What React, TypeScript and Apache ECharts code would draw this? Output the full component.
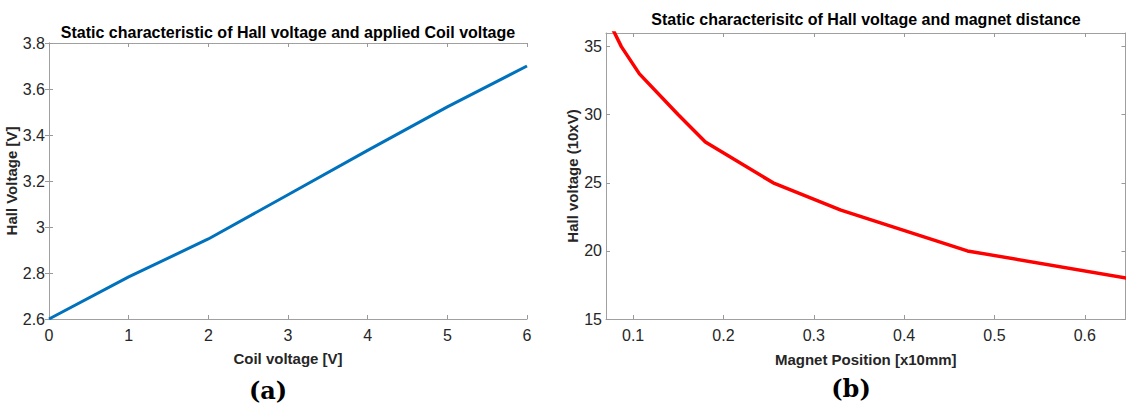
import React, { useEffect, useRef } from "react";
import * as echarts from "echarts";

// Chart (a): Hall voltage vs coil voltage
const coilVoltage = [0, 1, 2, 3, 4, 5, 6];
const hallVoltageA = [2.6, 2.783, 2.948, 3.14, 3.333, 3.522, 3.7];

// Chart (b): Hall voltage vs magnet position
const magnetPosition = [0.078, 0.087, 0.107, 0.15, 0.18, 0.255, 0.33, 0.47, 0.646];
const hallVoltageB = [36.2, 35, 33, 30, 28, 25, 23, 20, 18];

const xTicksB = [0.1, 0.2, 0.3, 0.4, 0.5, 0.6];

const titleA = "Static characteristic of Hall voltage and applied Coil voltage";
const titleB = "Static characterisitc of Hall voltage and magnet distance";

const FONT = "'Liberation Sans Narrow', 'Liberation Sans', Arial, sans-serif";

export default function App() {
  const ref = useRef<HTMLDivElement>(null);
  useEffect(() => {
    document.body.style.margin = "0";
    if (!ref.current) return;
    const chart = echarts.init(ref.current, undefined, { renderer: "svg" });
    const labelStyle = { color: "#262626", fontSize: 16, fontFamily: FONT };
    const nameStyle = { color: "#262626", fontSize: 15, fontWeight: "bold" as const, fontFamily: FONT };
    const tickStyle = { show: true, inside: true, length: 4, lineStyle: { color: "#999" } };
    const axisLine = { show: true, lineStyle: { color: "#a0a0a0", width: 1 } };

    const dataA = coilVoltage.map((x, i) => [x, hallVoltageA[i]]);
    const dataB = magnetPosition.map((x, i) => [x, hallVoltageB[i]]);

    chart.setOption({
      animation: false,
      backgroundColor: "#fff",
      title: [
        {
          text: titleA,
          left: 288,
          top: 24,
          textAlign: "center",
          padding: 0,
          textStyle: { fontSize: 16, fontWeight: "bold", color: "#000", fontFamily: FONT },
        },
        {
          text: titleB,
          left: 866,
          top: 11,
          textAlign: "center",
          padding: 0,
          textStyle: { fontSize: 16, fontWeight: "bold", color: "#000", fontFamily: FONT },
        },
        {
          text: "{p|(}{b|a}{p|)}",
          left: 268,
          top: 378,
          textAlign: "center",
          padding: 0,
          textStyle: {
            rich: {
              p: { fontSize: 24, fontFamily: "'DejaVu Serif', serif", color: "#000" },
              b: { fontSize: 24, fontFamily: "'DejaVu Serif', serif", fontWeight: "bold", color: "#000" },
            },
          },
        },
        {
          text: "{p|(}{b|b}{p|)}",
          left: 851,
          top: 376,
          textAlign: "center",
          padding: 0,
          textStyle: {
            rich: {
              p: { fontSize: 24, fontFamily: "'DejaVu Serif', serif", color: "#000" },
              b: { fontSize: 24, fontFamily: "'DejaVu Serif', serif", fontWeight: "bold", color: "#000" },
            },
          },
        },
      ],
      grid: [
        { left: 49, top: 43, width: 478, height: 276, containLabel: false },
        { left: 606, top: 33, width: 519.5, height: 286, containLabel: false },
      ],
      xAxis: [
        {
          type: "value",
          gridIndex: 0,
          min: 0,
          max: 6,
          interval: 1,
          name: "Coil voltage [V]",
          nameLocation: "middle",
          nameGap: 32,
          nameTextStyle: nameStyle,
          axisLine,
          axisTick: tickStyle,
          axisLabel: { ...labelStyle, margin: 8 },
          splitLine: { show: false },
        },
        {
          type: "value",
          gridIndex: 0,
          position: "top",
          min: 0,
          max: 6,
          interval: 1,
          axisLine,
          axisTick: tickStyle,
          axisLabel: { show: false },
          splitLine: { show: false },
        },
        {
          type: "value",
          gridIndex: 1,
          min: 0.07,
          max: 0.645,
          name: "Magnet Position [x10mm]",
          nameLocation: "middle",
          nameGap: 33,
          nameTextStyle: nameStyle,
          axisLine,
          axisTick: { ...tickStyle, customValues: xTicksB },
          axisLabel: { ...labelStyle, margin: 8, customValues: xTicksB },
          splitLine: { show: false },
        },
        {
          type: "value",
          gridIndex: 1,
          position: "top",
          min: 0.07,
          max: 0.645,
          axisLine,
          axisTick: { ...tickStyle, customValues: xTicksB },
          axisLabel: { show: false },
          splitLine: { show: false },
        },
      ],
      yAxis: [
        {
          type: "value",
          gridIndex: 0,
          min: 2.6,
          max: 3.8,
          interval: 0.2,
          name: "Hall Voltage [V]",
          nameLocation: "middle",
          nameGap: 28,
          nameTextStyle: nameStyle,
          axisLine,
          axisTick: tickStyle,
          axisLabel: { ...labelStyle, margin: 4 },
          splitLine: { show: false },
        },
        {
          type: "value",
          gridIndex: 0,
          position: "right",
          min: 2.6,
          max: 3.8,
          interval: 0.2,
          axisLine,
          axisTick: tickStyle,
          axisLabel: { show: false },
          splitLine: { show: false },
        },
        {
          type: "value",
          gridIndex: 1,
          min: 15,
          max: 36,
          interval: 5,
          name: "Hall voltage (10xV)",
          nameLocation: "middle",
          nameGap: 25,
          nameTextStyle: nameStyle,
          axisLine,
          axisTick: tickStyle,
          axisLabel: { ...labelStyle, margin: 4 },
          splitLine: { show: false },
        },
        {
          type: "value",
          gridIndex: 1,
          position: "right",
          min: 15,
          max: 36,
          interval: 5,
          axisLine,
          axisTick: tickStyle,
          axisLabel: { show: false },
          splitLine: { show: false },
        },
      ],
      series: [
        {
          type: "line",
          xAxisIndex: 0,
          yAxisIndex: 0,
          data: dataA,
          showSymbol: false,
          lineStyle: { color: "#0072BD", width: 3 },
        },
        {
          type: "line",
          xAxisIndex: 2,
          yAxisIndex: 2,
          data: dataB,
          showSymbol: false,
          clip: true,
          lineStyle: { color: "#ff0000", width: 3.5 },
        },
      ],
    });
    return () => chart.dispose();
  }, []);
  return <div ref={ref} style={{ width: 1126, height: 405 }} />;
}
